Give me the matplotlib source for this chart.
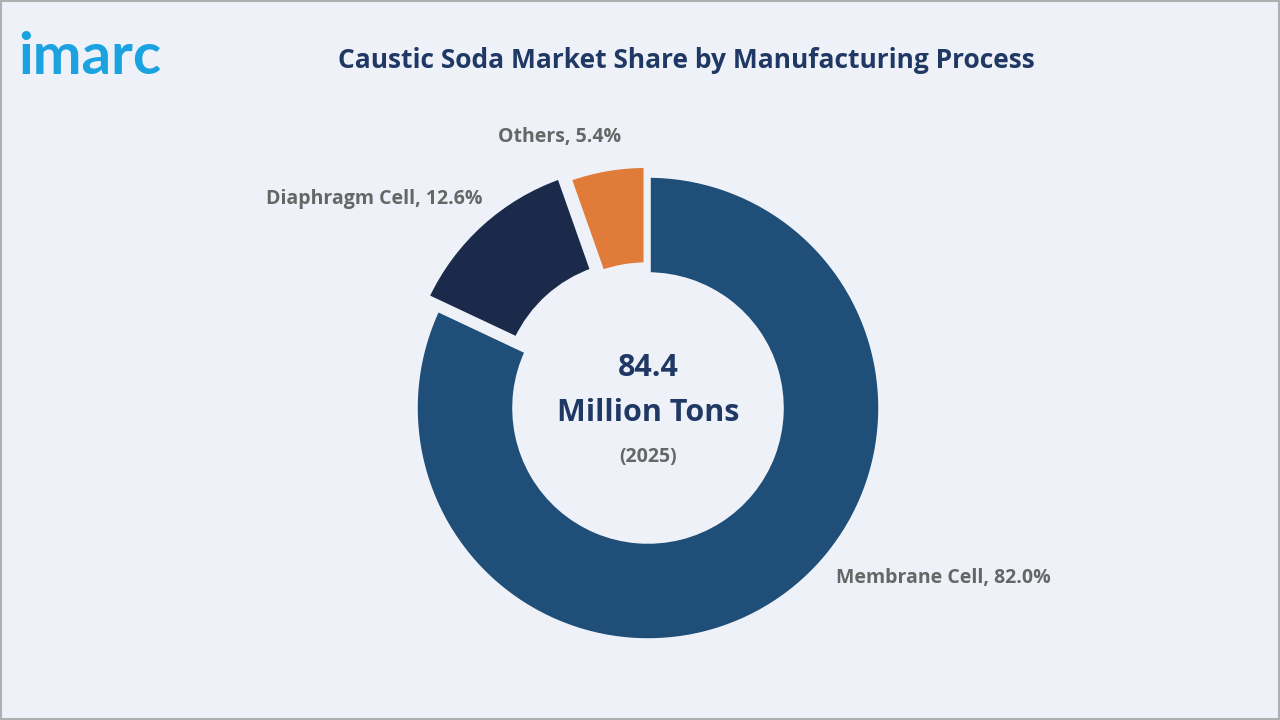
import matplotlib.pyplot as plt
from matplotlib.patches import Rectangle

categories = ['Membrane Cell', 'Diaphragm Cell', 'Others']
shares = [82.0, 12.6, 5.4]
colors = ['#1f4e79', '#1b2a4a', '#e07b39']
explode = [0.0, 16, 10]  # in pixel units (pie offset is not scaled by radius)
bg = '#eef2f8'

fig = plt.figure(figsize=(12.8, 7.2), dpi=100, facecolor=bg)
ax = fig.add_axes([0, 0, 1, 1])

ax.pie(shares, colors=colors, explode=explode, startangle=90, counterclock=False,
       center=(648, 312), radius=233, frame=True,
       wedgeprops=dict(width=100, edgecolor=bg, linewidth=4))
ax.set_xlim(0, 1280)
ax.set_ylim(0, 720)
ax.set_aspect('equal')
ax.axis('off')
ax.add_patch(Rectangle((1, 1), 1278, 718, fill=False, edgecolor='#b0b0b0', lw=1.5))

lab = dict(fontsize=14, color='#666666', fontweight='bold', family='Open Sans')
ax.text(836, 142, f'{categories[0]}, {shares[0]:.1f}%', ha='left', va='center', **lab)
ax.text(482, 521, f'{categories[1]}, {shares[1]:.1f}%', ha='right', va='center', **lab)
ax.text(560, 583, f'{categories[2]}, {shares[2]:.1f}%', ha='center', va='center', **lab)

ax.text(648, 352, '84.4', ha='center', va='center', fontsize=22, fontweight='bold',
        color='#1f3864', family='Open Sans')
ax.text(648, 307, 'Million Tons', ha='center', va='center', fontsize=22, fontweight='bold',
        color='#1f3864', family='Open Sans')
ax.text(648, 263, '(2025)', ha='center', va='center', fontsize=14, fontweight='bold',
        color='#666666', family='Open Sans')

ax.text(686, 660, 'Caustic Soda Market Share by Manufacturing Process', ha='center', va='center',
        fontsize=19, fontweight='bold', color='#1f3864', family='Open Sans')
ax.text(18, 662, 'imarc', ha='left', va='center', fontsize=42, fontweight='bold',
        color='#1aa3e0', family='Lato')

fig.savefig('out.png', dpi=100, facecolor=bg)
